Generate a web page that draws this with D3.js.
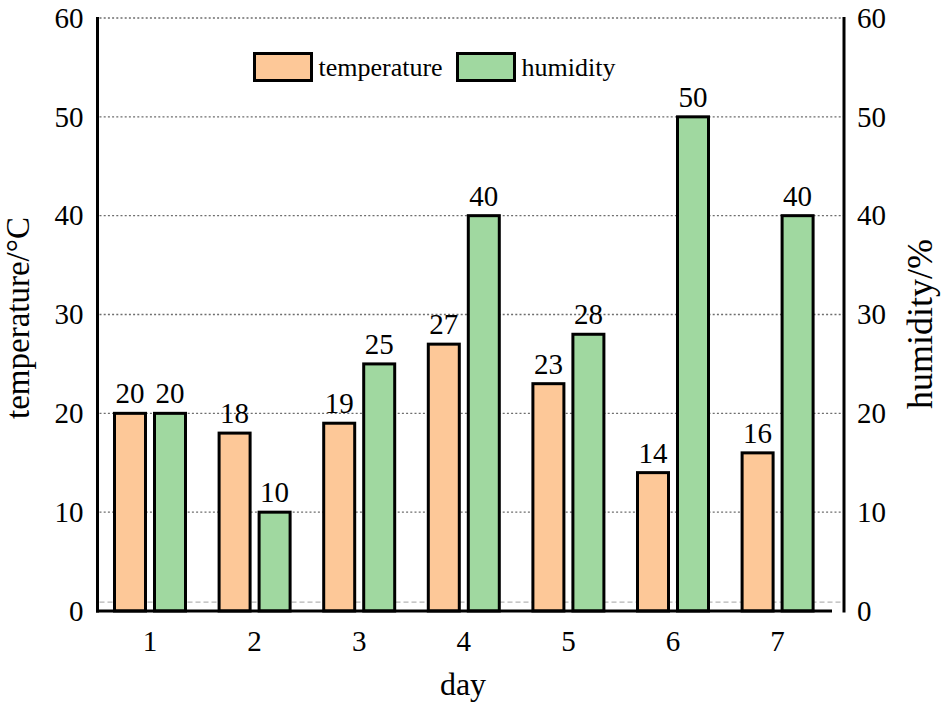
<!DOCTYPE html>
<html>
<head>
<meta charset="utf-8">
<script src="https://cdn.jsdelivr.net/npm/d3@7"></script>
<style>
  html, body { margin: 0; padding: 0; background: #fff; }
  svg { display: block; font-family: "Liberation Serif", "Times New Roman", serif; }
  svg text { font-family: "Liberation Serif", "Times New Roman", serif; }
</style>
</head>
<body>
<svg id="chart" width="944" height="708"></svg>
<script>
const days = ["1", "2", "3", "4", "5", "6", "7"];
const seriesNames = ["temperature", "humidity"];
const temperature = [20, 18, 19, 27, 23, 14, 16];
const humidity = [20, 10, 25, 40, 28, 50, 40];
const yTicks = [0, 10, 20, 30, 40, 50, 60];
const seriesColors = ["#FDC898", "#A0D8A0"];

const svg = d3.select("#chart");
const plotLeft = 97.5, plotRight = 844, plotTop = 18, plotBottom = 611;

const x = d3.scaleBand().domain(days).range([97.7, 829.9]);
const xSub = d3.scaleBand().domain(seriesNames).range([-35.5, 35.5]).paddingInner(0.225);
const yL = d3.scaleLinear().domain([0, 60]).range([plotBottom, plotTop]);
const yR = d3.scaleLinear().domain([0, 60]).range([plotBottom, plotTop]);
const color = d3.scaleOrdinal().domain(seriesNames).range(seriesColors);

// gridlines
svg.append("g").selectAll("line").data(yTicks.filter(d => d > 0)).join("line")
  .attr("x1", plotLeft + 2).attr("x2", plotRight - 1)
  .attr("y1", d => yL(d)).attr("y2", d => yL(d))
  .attr("stroke", "#6e6e6e").attr("stroke-width", 1.4).attr("stroke-dasharray", "2,2.2");
// light line just above zero
svg.append("line")
  .attr("x1", plotLeft + 2).attr("x2", plotRight - 1)
  .attr("y1", yL(0.9)).attr("y2", yL(0.9))
  .attr("stroke", "#b5b5b5").attr("stroke-width", 1.4).attr("stroke-dasharray", "5,3");

// bars
const data = days.map((d, i) => ({ day: d, values: [
  { key: "temperature", value: temperature[i] },
  { key: "humidity", value: humidity[i] }
]}));

const groups = svg.append("g").selectAll("g").data(data).join("g")
  .attr("transform", d => `translate(${x(d.day) + x.bandwidth() / 2},0)`);

groups.selectAll("rect").data(d => d.values).join("rect")
  .attr("x", d => xSub(d.key))
  .attr("width", xSub.bandwidth())
  .attr("y", d => yL(d.value))
  .attr("height", d => yL(0) - yL(d.value))
  .attr("fill", d => color(d.key))
  .attr("stroke", "#000").attr("stroke-width", 3);

groups.selectAll("text").data(d => d.values).join("text")
  .attr("x", d => xSub(d.key) + xSub.bandwidth() / 2)
  .attr("y", d => yL(d.value) - 10)
  .attr("text-anchor", "middle")
  .attr("font-size", 29)
  .attr("fill", "#000")
  .text(d => d.value);

// axes
const axL = svg.append("g").attr("transform", `translate(${plotLeft},0)`)
  .call(d3.axisLeft(yL).tickValues(yTicks).tickSize(0).tickPadding(14));
const axR = svg.append("g").attr("transform", `translate(${plotRight},0)`)
  .call(d3.axisRight(yR).tickValues(yTicks).tickSize(0).tickPadding(13));
const axB = svg.append("g").attr("transform", `translate(0,${plotBottom})`)
  .call(d3.axisBottom(x).tickSize(0).tickPadding(19));

[axL, axR, axB].forEach(a => {
  a.attr("font-family", null);
  a.select(".domain").attr("stroke", "#000").attr("stroke-width", 3);
  a.selectAll("text").attr("font-size", 29).attr("fill", "#000");
});
axL.select(".domain").attr("d", `M0,${plotTop - 1}V${plotBottom + 1.5}`);
axR.select(".domain").attr("d", `M0,${plotTop - 1}V${plotBottom + 1.5}`);
axB.select(".domain").attr("d", `M${plotLeft - 1.5},0H832`);

// axis titles
svg.append("text").attr("x", 463).attr("y", 695).attr("text-anchor", "middle")
  .attr("font-size", 32).text("day");
svg.append("text").attr("transform", `translate(29,318) rotate(-90)`).attr("text-anchor", "middle")
  .attr("font-size", 33).text("temperature/°C");
svg.append("text").attr("transform", `translate(932,324) rotate(-90)`).attr("text-anchor", "middle")
  .attr("font-size", 36).text("humidity/%");

// legend
const legendX = [254.5, 457.5];
const legend = svg.append("g").selectAll("g").data(seriesNames).join("g")
  .attr("transform", (d, i) => `translate(${legendX[i]},53.5)`);
legend.append("rect").attr("width", 57).attr("height", 27)
  .attr("fill", d => color(d)).attr("stroke", "#000").attr("stroke-width", 3);
legend.append("text").attr("x", 64).attr("y", 22).attr("font-size", 26).text(d => d);
</script>
</body>
</html>
